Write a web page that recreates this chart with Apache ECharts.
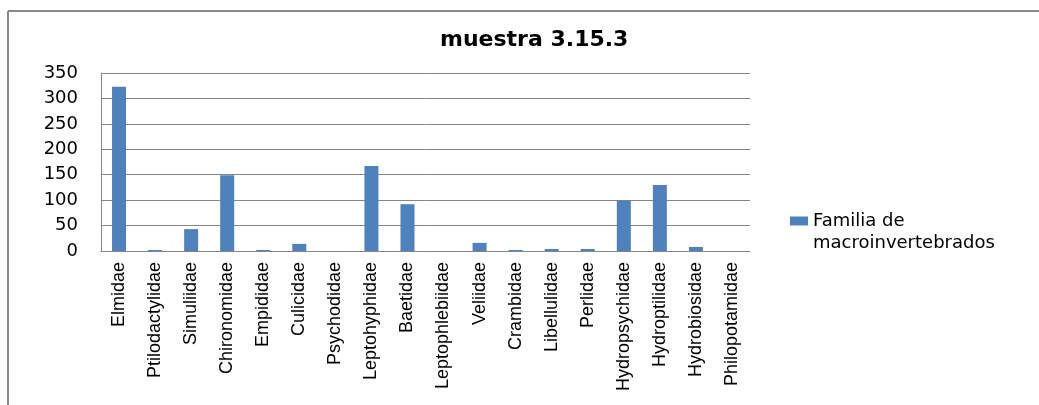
<!DOCTYPE html>
<html>
<head>
<meta charset="utf-8">
<script src="https://cdn.jsdelivr.net/npm/echarts@6/dist/echarts.min.js"></script>
<style>
  html, body { margin: 0; padding: 0; background: #fff; }
  #chart { width: 1039px; height: 405px; }
</style>
</head>
<body>
<div id="chart"></div>
<script>
const families = [
  'Elmidae', 'Ptilodactylidae', 'Simuliidae', 'Chironomidae', 'Empididae',
  'Culicidae', 'Psychodidae', 'Leptohyphidae', 'Baetidae', 'Leptophlebiidae',
  'Veliidae', 'Crambidae', 'Libellulidae', 'Perlidae', 'Hydropsychidae',
  'Hydroptilidae', 'Hydrobiosidae', 'Philopotamidae'
]
const counts = [323, 2, 43, 149, 2, 14, 0, 167, 92, 0, 16, 2, 4, 4, 99, 130, 8, 0]
const seriesName = 'Familia de macroinvertebrados'

const chart = echarts.init(document.getElementById('chart'))

const option = {
  animation: false,
  title: {
    text: 'muestra 3.15.3',
    left: 440,
    top: 29,
    padding: 0,
    textStyle: {
      fontFamily: 'DejaVu Sans',
      fontSize: 22,
      fontWeight: 'bold',
      color: '#000'
    }
  },
  // outer frame of the chart area (only top and left edges visible)
  graphic: [
    { type: 'line', shape: { x1: 8, y1: 11, x2: 1039, y2: 11 }, style: { stroke: '#898989', lineWidth: 2 } },
    { type: 'line', shape: { x1: 8, y1: 11, x2: 8, y2: 405 }, style: { stroke: '#898989', lineWidth: 2 } }
  ],
  legend: {
    data: [seriesName],
    left: 790,
    top: 188,
    padding: 0,
    icon: 'rect',
    itemWidth: 18,
    itemHeight: 9,
    itemGap: 0,
    // leading blank line keeps the first text line level with the icon
    formatter: function () {
      return ' \nFamilia de\nmacroinvertebrados'
    },
    textStyle: {
      fontFamily: 'DejaVu Sans',
      fontSize: 18,
      lineHeight: 22,
      color: '#000'
    }
  },
  grid: {
    left: 101,
    right: 289,
    top: 73,
    bottom: 154
  },
  xAxis: {
    type: 'category',
    data: families,
    axisLine: { lineStyle: { color: '#868686', width: 1 } },
    axisTick: { show: false },
    axisLabel: {
      interval: 0,
      rotate: 90,
      margin: 11,
      fontFamily: 'Liberation Sans',
      fontSize: 18,
      color: '#000'
    }
  },
  yAxis: {
    type: 'value',
    min: 0,
    max: 350,
    interval: 50,
    axisLine: { show: true, lineStyle: { color: '#868686', width: 1 } },
    axisTick: { show: false },
    splitLine: { lineStyle: { color: '#868686', width: 1 } },
    axisLabel: {
      margin: 23,
      fontFamily: 'DejaVu Sans',
      fontSize: 18,
      color: '#000'
    }
  },
  series: [
    {
      name: seriesName,
      type: 'bar',
      data: counts,
      barWidth: 14,
      itemStyle: { color: '#4F81BD' }
    }
  ]
}

chart.setOption(option)
</script>
</body>
</html>
